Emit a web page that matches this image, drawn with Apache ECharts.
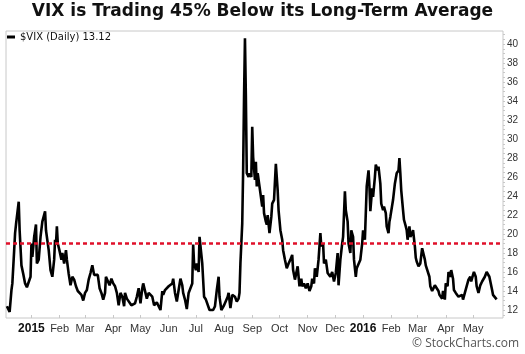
<!DOCTYPE html>
<html>
<head>
<meta charset="utf-8">
<script src="https://cdn.jsdelivr.net/npm/echarts@6/dist/echarts.min.js"></script>
<style>
  html, body { margin: 0; padding: 0; background: #fff; }
  #chart { width: 525px; height: 354px; }
</style>
</head>
<body>
<div id="chart"></div>
<script>
// VIX daily closes
const dates = [
  '2014-12-05','2014-12-08','2014-12-10','2014-12-11','2014-12-13','2014-12-14','2014-12-15','2014-12-16','2014-12-18','2014-12-19',
  '2014-12-21','2014-12-23','2014-12-25','2014-12-27','2014-12-29','2014-12-31','2015-01-01','2015-01-02','2015-01-04','2015-01-06',
  '2015-01-07','2015-01-09','2015-01-11','2015-01-13','2015-01-16','2015-01-17','2015-01-20','2015-01-22','2015-01-24','2015-01-26',
  '2015-01-27','2015-01-28','2015-01-29','2015-01-30','2015-02-01','2015-02-03','2015-02-04','2015-02-06','2015-02-08','2015-02-09',
  '2015-02-11','2015-02-13','2015-02-15','2015-02-17','2015-02-19','2015-02-21','2015-02-23','2015-02-25','2015-02-27','2015-03-01',
  '2015-03-03','2015-03-05','2015-03-07','2015-03-09','2015-03-11','2015-03-13','2015-03-15','2015-03-17','2015-03-19','2015-03-21',
  '2015-03-23','2015-03-24','2015-03-26','2015-03-28','2015-03-30','2015-04-01','2015-04-03','2015-04-05','2015-04-07','2015-04-09',
  '2015-04-11','2015-04-13','2015-04-14','2015-04-16','2015-04-18','2015-04-21','2015-04-23','2015-04-25','2015-04-27','2015-04-29',
  '2015-05-01','2015-05-03','2015-05-04','2015-05-06','2015-05-08','2015-05-10','2015-05-12','2015-05-14','2015-05-16','2015-05-17',
  '2015-05-19','2015-05-21','2015-05-23','2015-05-25','2015-05-26','2015-05-28','2015-05-30','2015-06-01','2015-06-03','2015-06-05',
  '2015-06-06','2015-06-08','2015-06-10','2015-06-12','2015-06-14','2015-06-16','2015-06-17','2015-06-19','2015-06-21','2015-06-23',
  '2015-06-25','2015-06-27','2015-06-28','2015-06-29','2015-07-01','2015-07-02','2015-07-04','2015-07-05','2015-07-07','2015-07-08',
  '2015-07-10','2015-07-12','2015-07-14','2015-07-16','2015-07-18','2015-07-20','2015-07-22','2015-07-24','2015-07-26','2015-07-27',
  '2015-07-29','2015-07-30','2015-08-01','2015-08-03','2015-08-05','2015-08-06','2015-08-08','2015-08-10','2015-08-11','2015-08-13',
  '2015-08-15','2015-08-17','2015-08-18','2015-08-19','2015-08-21','2015-08-22','2015-08-23','2015-08-24','2015-08-25','2015-08-26',
  '2015-08-28','2015-08-29','2015-08-31','2015-09-01','2015-09-02','2015-09-04','2015-09-05','2015-09-06','2015-09-07','2015-09-09',
  '2015-09-10','2015-09-12','2015-09-13','2015-09-14','2015-09-16','2015-09-17','2015-09-18','2015-09-20','2015-09-22','2015-09-23',
  '2015-09-25','2015-09-27','2015-09-29','2015-09-30','2015-10-02','2015-10-04','2015-10-05','2015-10-07','2015-10-09','2015-10-11',
  '2015-10-13','2015-10-15','2015-10-16','2015-10-18','2015-10-19','2015-10-21','2015-10-23','2015-10-25','2015-10-26','2015-10-28',
  '2015-10-30','2015-11-01','2015-11-03','2015-11-05','2015-11-06','2015-11-08','2015-11-09','2015-11-11','2015-11-13','2015-11-15',
  '2015-11-16','2015-11-18','2015-11-19','2015-11-21','2015-11-23','2015-11-25','2015-11-26','2015-11-28','2015-11-30','2015-12-02',
  '2015-12-04','2015-12-05','2015-12-07','2015-12-09','2015-12-10','2015-12-12','2015-12-13','2015-12-15','2015-12-16','2015-12-18',
  '2015-12-19','2015-12-21','2015-12-22','2015-12-24','2015-12-25','2015-12-27','2015-12-29','2015-12-31','2016-01-01','2016-01-03',
  '2016-01-05','2016-01-07','2016-01-08','2016-01-09','2016-01-11','2016-01-12','2016-01-14','2016-01-15','2016-01-17','2016-01-18',
  '2016-01-20','2016-01-21','2016-01-23','2016-01-24','2016-01-26','2016-01-27','2016-01-29','2016-01-30','2016-01-31','2016-02-02',
  '2016-02-03','2016-02-05','2016-02-07','2016-02-09','2016-02-10','2016-02-11','2016-02-12','2016-02-14','2016-02-15','2016-02-17',
  '2016-02-18','2016-02-19','2016-02-21','2016-02-22','2016-02-24','2016-02-25','2016-02-27','2016-02-28','2016-02-29','2016-03-02',
  '2016-03-04','2016-03-06','2016-03-07','2016-03-09','2016-03-10','2016-03-12','2016-03-14','2016-03-15','2016-03-17','2016-03-18',
  '2016-03-20','2016-03-22','2016-03-24','2016-03-25','2016-03-26','2016-03-28','2016-03-29','2016-03-31','2016-04-01','2016-04-03',
  '2016-04-04','2016-04-06','2016-04-07','2016-04-09','2016-04-10','2016-04-12','2016-04-13','2016-04-15','2016-04-17','2016-04-19',
  '2016-04-20','2016-04-22','2016-04-24','2016-04-26','2016-04-28','2016-04-29','2016-05-01','2016-05-02','2016-05-04','2016-05-05',
  '2016-05-07','2016-05-09','2016-05-11','2016-05-12','2016-05-14','2016-05-16','2016-05-17','2016-05-19','2016-05-20','2016-05-22',
  '2016-05-23','2016-05-25','2016-05-27'
];
const vix = [
  12.4,11.8,14.1,14.8,18.3,20.1,21.0,20.8,23.4,20.4,
  16.7,15.8,14.8,14.4,14.6,15.5,19.0,17.6,19.7,21.0,
  16.9,17.3,19.7,21.3,22.4,20.4,18.3,16.2,15.5,17.3,
  19.4,18.9,20.8,19.0,18.2,17.3,18.0,16.9,18.3,17.3,
  15.8,14.6,15.5,15.2,14.5,14.0,13.8,13.6,13.0,13.8,
  14.1,15.2,15.9,16.7,15.7,15.5,15.7,14.3,13.8,13.1,
  13.8,15.5,15.7,14.6,15.3,14.8,14.5,13.8,12.5,13.8,
  13.4,12.4,13.8,13.2,13.0,12.5,12.4,12.7,13.4,14.3,
  12.7,14.3,14.8,15.0,13.2,13.8,13.8,13.4,12.5,12.7,
  12.8,12.4,12.0,14.0,13.6,14.1,14.0,14.5,14.3,14.8,
  15.3,13.8,12.9,14.1,15.3,14.6,13.8,13.1,12.1,13.8,
  14.0,14.8,18.9,16.9,16.2,16.9,16.0,19.7,19.9,16.9,
  13.4,13.1,13.1,12.0,11.9,12.0,12.4,14.1,15.5,13.4,
  12.0,12.1,12.5,12.7,13.4,13.8,12.2,13.6,13.6,13.4,
  12.9,13.2,13.8,16.9,21.1,26.7,34.5,40.6,34.5,26.4,
  26.0,26.4,26.0,31.3,28.1,25.7,27.6,25.0,26.4,25.0,
  24.3,22.9,24.1,22.2,21.3,21.0,22.0,20.1,21.8,23.2,
  23.6,27.4,24.6,22.5,20.4,19.4,18.3,17.3,16.4,16.9,
  17.3,17.8,16.2,15.2,15.2,16.6,14.5,15.3,14.5,14.8,
  14.3,14.8,14.0,14.5,15.3,14.8,16.4,15.5,17.3,20.1,
  18.7,19.0,16.9,17.3,15.9,15.7,15.5,16.0,15.0,15.9,
  18.0,14.6,17.3,19.0,19.7,24.5,22.5,21.3,19.0,18.0,
  20.4,19.7,17.3,15.5,16.4,16.6,17.3,19.0,20.4,19.4,
  25.0,26.7,25.0,22.4,24.8,23.9,26.0,27.3,26.7,27.1,
  25.3,23.2,22.5,22.9,22.2,20.8,20.1,21.3,21.8,21.8,
  23.6,25.3,26.4,26.7,28.0,26.4,24.6,22.5,21.5,20.8,
  20.4,19.4,20.8,19.7,20.1,20.4,18.7,17.5,17.1,16.6,
  16.9,18.5,18.3,17.3,16.7,16.9,15.5,14.5,14.0,13.8,
  14.6,14.8,14.0,13.6,13.8,13.2,14.0,13.1,14.8,14.5,
  16.0,15.5,16.2,15.3,14.1,13.8,14.0,13.4,13.2,13.6,
  13.1,13.8,14.0,15.2,15.5,15.0,15.7,16.0,15.5,14.5,
  13.8,14.6,15.0,15.0,15.5,16.0,16.2,15.5,15.5,14.1,
  13.6,13.4,13.12
];
const longTermAvg = 19;
const yTicks = [12, 14, 16, 18, 20, 22, 24, 26, 28, 30, 32, 34, 36, 38, 40];
const monthTicks = ['2015-01-01','2015-02-01','2015-03-01','2015-04-01','2015-05-01','2015-06-01','2015-07-01','2015-08-01',
  '2015-09-01','2015-10-01','2015-11-01','2015-12-01','2016-01-01','2016-02-01','2016-03-01','2016-04-01','2016-05-01'];
const monthLabels = ['2015','Feb','Mar','Apr','May','Jun','Jul','Aug','Sep','Oct','Nov','Dec','2016','Feb','Mar','Apr','May'];

const toTs = (s) => { const p = s.split('-'); return Date.UTC(+p[0], +p[1] - 1, +p[2]); };
const tickTs = monthTicks.map(toTs);
const minorY = [];
for (let v = 11.5; v <= 41; v += 0.5) minorY.push(v);

const seriesName = '$VIX (Daily) ' + vix[vix.length - 1].toFixed(2);

const chart = echarts.init(document.getElementById('chart'), null, { renderer: 'canvas' });
chart.setOption({
  animation: false,
  backgroundColor: '#fff',
  title: {
    text: 'VIX is Trading 45% Below its Long-Term Average',
    left: 'center',
    top: 3,
    padding: 0,
    textStyle: { fontFamily: 'DejaVu Sans', fontWeight: 'bold', fontSize: 17, color: '#111' }
  },
  legend: {
    left: 7,
    top: 32,
    padding: 0,
    icon: 'rect',
    itemWidth: 8,
    itemHeight: 3,
    itemGap: 4,
    textStyle: { fontFamily: 'DejaVu Sans', fontSize: 10, color: '#111' },
    data: [seriesName]
  },
  grid: {
    left: 6, right: 22, top: 31, bottom: 36,
    show: true, borderColor: '#c8c8c8', borderWidth: 1, backgroundColor: 'transparent'
  },
  xAxis: {
    type: 'value',
    min: toTs('2014-12-04'),
    max: toTs('2016-06-03'),
    axisLine: { show: false },
    splitLine: { show: false },
    axisTick: { show: true, inside: true, length: 3, customValues: tickTs, lineStyle: { color: '#c8c8c8' } },
    axisLabel: {
      customValues: tickTs,
      margin: 5,
      hideOverlap: false,
      fontFamily: 'Liberation Sans',
      fontSize: 11,
      color: '#333',
      formatter: (val) => {
        const i = tickTs.indexOf(val);
        const t = i >= 0 ? monthLabels[i] : '';
        return /^\d{4}$/.test(t) ? '{yr|' + t + '}' : t;
      },
      rich: { yr: { fontFamily: 'Liberation Sans', fontWeight: 'bold', fontSize: 12, color: '#111' } }
    }
  },
  yAxis: {
    type: 'value',
    position: 'right',
    min: 11.16,
    max: 41.37,
    axisLine: { show: false },
    splitLine: { show: false },
    axisTick: { show: true, length: 2, customValues: minorY, lineStyle: { color: '#c8c8c8' } },
    axisLabel: {
      customValues: yTicks,
      margin: 4,
      fontFamily: 'Liberation Sans',
      fontSize: 10,
      color: '#333'
    }
  },
  series: [{
    name: seriesName,
    type: 'line',
    data: dates.map((d, i) => [toTs(d), vix[i]]),
    showSymbol: false,
    symbol: 'none',
    lineStyle: { color: '#000', width: 2.6 },
    itemStyle: { color: '#000' },
    markLine: {
      silent: true,
      symbol: 'none',
      label: { show: false },
      lineStyle: { color: '#e0102a', width: 2.5, type: [4, 3] },
      data: [{ yAxis: longTermAvg }]
    }
  }],
  graphic: [{
    type: 'text',
    right: 6,
    bottom: 4,
    style: { text: '\u00A9 StockCharts.com', fontFamily: 'Open Sans', fontSize: 12, fill: '#555' }
  }]
});
</script>
</body>
</html>
